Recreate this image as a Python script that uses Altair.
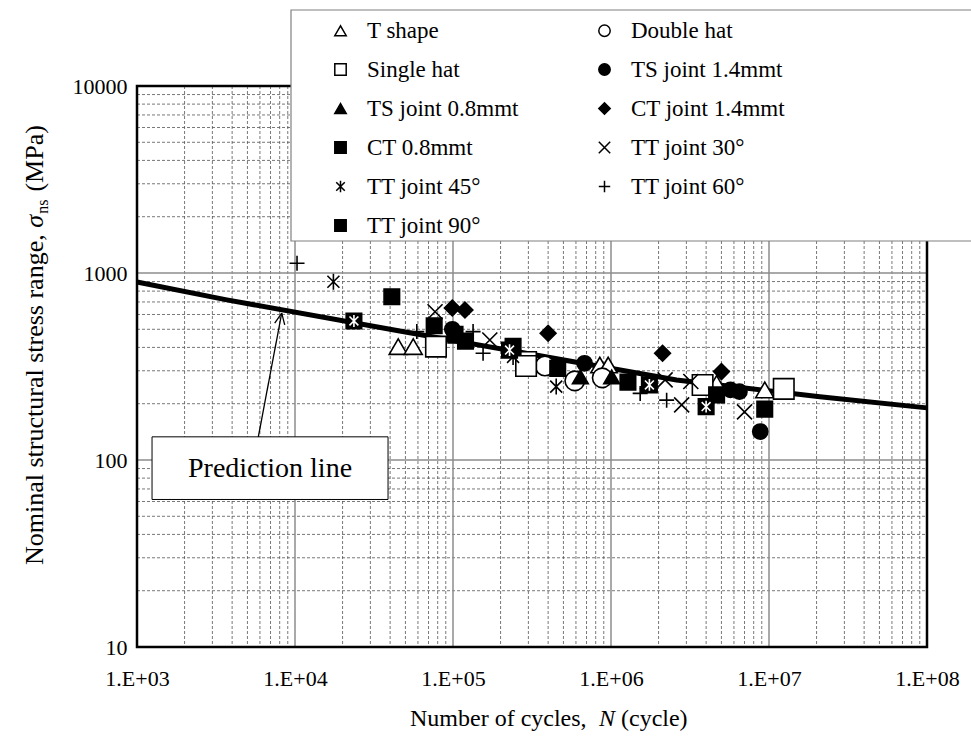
import altair as alt
import pandas as pd

# ---------------- data ----------------
series_names = ["T shape", "Double hat", "Single hat", "TS joint 1.4mmt", "TS joint 0.8mmt",
                "CT joint 1.4mmt", "CT 0.8mmt", "TT joint 30°", "TT joint 45°",
                "TT joint 60°", "TT joint 90°"]
# legend is filled column by column: left column first, then right column
legend_order = ["T shape", "Single hat", "TS joint 0.8mmt", "CT 0.8mmt", "TT joint 45°",
                "TT joint 90°", "Double hat", "TS joint 1.4mmt", "CT joint 1.4mmt",
                "TT joint 30°", "TT joint 60°"]

t_shape_N = [4.5e4, 5.6e4, 8.5e5, 9.6e5, 4.66e6, 9.4e6]
t_shape_S = [404, 404, 322, 322, 257, 237]
double_hat_N = [3.82e5, 5.9e5, 8.8e5]
double_hat_S = [318, 265, 275]
single_hat_N = [7.8e4, 2.9e5, 2.9e5, 3.8e6, 1.24e7]
single_hat_S = [404, 334, 318, 252, 240]
ts14_N = [9.9e4, 6.8e5, 5.7e6, 6.5e6, 8.8e6]
ts14_S = [500, 329, 237, 232, 142]
ts08_N = [1.05e5, 6.4e5, 1.01e6]
ts08_S = [460, 278, 278]
ct14_N = [9.9e4, 1.19e5, 4.0e5, 2.12e6, 5.0e6]
ct14_S = [650, 634, 476, 372, 297]
ct08_N = [4.1e4, 7.6e4, 1.03e5, 1.2e5, 2.4e5, 4.6e5, 1.28e6, 4.66e6, 9.4e6]
ct08_S = [747, 522, 470, 432, 405, 309, 261, 223, 187]
tt30_N = [7.7e4, 1.71e5, 1.7e6, 2.2e6, 3.2e6, 2.8e6, 7.0e6]
tt30_S = [621, 438, 262, 268, 263, 197, 181]
tt45_N = [1.75e4, 2.4e5, 4.5e5]
tt45_S = [898, 356, 247]
tt60_N = [1.03e4, 5.9e4, 1.34e5, 1.55e5, 1.53e6, 2.25e6]
tt60_S = [1127, 486, 486, 372, 227, 209]
tt90_N = [2.36e4, 2.28e5, 1.75e6, 4.0e6]
tt90_S = [554, 387, 252, 193]

pred_N = [1e3, 3.7e3, 4.6e4, 2.6e6, 2.1e7, 1e8]
pred_S = [895, 718, 490, 268, 218, 190]

x_decades = [1e3, 1e4, 1e5, 1e6, 1e7, 1e8]
y_decades = [10, 100, 1000, 10000]
x_minor = [m * 10 ** e for e in range(3, 8) for m in range(2, 10)]
y_minor = [m * 10 ** e for e in range(1, 4) for m in range(2, 10)]

# ---------------- styling ----------------
PLUS = "M-1,0L1,0M0,-1L0,1"
CROSS = "M-1,-1L1,1M-1,1L1,-1"
STAR = "M-0.75,-0.75L0.75,0.75M-0.75,0.75L0.75,-0.75M0,-1L0,1"
style = {  # shape, fill, size
    "T shape": ("triangle-up", "white", 324),
    "Double hat": ("circle", "white", 380),
    "Single hat": ("square", "white", 420),
    "TS joint 1.4mmt": ("circle", "black", 230),
    "TS joint 0.8mmt": ("triangle-up", "black", 250),
    "CT joint 1.4mmt": ("diamond", "black", 250),
    "CT 0.8mmt": ("square", "black", 240),
    "TT joint 30°": (CROSS, "black", 225),
    "TT joint 45°": (STAR, "black", 256),
    "TT joint 60°": (PLUS, "black", 225),
    "TT joint 90°": ("square", "black", 240),
}
shape_range = [style[s][0] for s in legend_order]
fill_range = [style[s][1] for s in legend_order]
stroke_range = ["black"] * len(legend_order)

all_N = [t_shape_N, double_hat_N, single_hat_N, ts14_N, ts08_N, ct14_N, ct08_N,
         tt30_N, tt45_N, tt60_N, tt90_N]
all_S = [t_shape_S, double_hat_S, single_hat_S, ts14_S, ts08_S, ct14_S, ct08_S,
         tt30_S, tt45_S, tt60_S, tt90_S]
rows = []
for k, (ns, ss) in enumerate(zip(all_N, all_S)):
    for n, s in zip(ns, ss):
        rows.append({"N": n, "S": s, "series": series_names[k], "sz": style[series_names[k]][2]})
pts = pd.DataFrame(rows)
tt90_df = pd.DataFrame({"N": tt90_N, "S": tt90_S})
pred_df = pd.DataFrame({"N": pred_N, "S": pred_S})

FONT = "Liberation Serif"
W, H = 790, 561
DEC_X, DEC_Y = W / 5, H / 3


def N_at(px):  # horizontal pixel offset in the plot -> cycles
    return 10 ** (3 + px / DEC_X)


def S_at(py):  # vertical pixel offset in the plot -> stress
    return 10 ** (4 - py / DEC_Y)


xscale = alt.Scale(type="log", domain=[1e3, 1e8], nice=False)
yscale = alt.Scale(type="log", domain=[10, 1e4], nice=False)

x_axis = alt.Axis(values=x_decades, title=None, ticks=False, domain=False, grid=False,
                  labelFont=FONT, labelFontSize=22, labelColor="black", labelPadding=21,
                  labelFlush=False, labelBound=False, labelOverlap=False,
                  labelExpr="'1.E+0' + round(log(datum.value) / LN10)")
y_axis = alt.Axis(values=y_decades, title=None, ticks=False, domain=False, grid=False,
                  labelFont=FONT, labelFontSize=22, labelColor="black", labelPadding=10,
                  labelFlush=False, labelBound=False, labelOverlap=False,
                  labelExpr="'' + datum.value")


def X(field="N"):
    return alt.X(field + ":Q", scale=xscale, axis=x_axis)


def Y(field="S"):
    return alt.Y(field + ":Q", scale=yscale, axis=y_axis)


# grid
vmin = alt.Chart(pd.DataFrame({"N": x_minor, "S": [1e4] * len(x_minor), "S2": [10] * len(x_minor)})
                 ).mark_rule(color="#555555", strokeWidth=0.8, strokeDash=[3, 2]).encode(
    x=X(), y=Y(), y2="S2:Q")
hmin = alt.Chart(pd.DataFrame({"S": y_minor, "N": [1e3] * len(y_minor), "N2": [1e8] * len(y_minor)})
                 ).mark_rule(color="#555555", strokeWidth=0.8, strokeDash=[3, 2]).encode(
    x=X(), x2="N2:Q", y=Y())
vmaj = alt.Chart(pd.DataFrame({"N": x_decades, "S": [1e4] * 6, "S2": [10] * 6})
                 ).mark_rule(color="#8c8c8c", strokeWidth=1.5).encode(
    x=X(), y=Y(), y2="S2:Q")
hmaj = alt.Chart(pd.DataFrame({"S": y_decades, "N": [1e3] * 4, "N2": [1e8] * 4})
                 ).mark_rule(color="#8c8c8c", strokeWidth=1.5).encode(
    x=X(), x2="N2:Q", y=Y())

frame = alt.Chart(pd.DataFrame({"N": [1e3], "N2": [1e8], "S": [1e4], "S2": [10]})).mark_rect(
    fill="transparent", stroke="black", strokeWidth=2.5).encode(
    x=X(), x2="N2:Q", y=Y(), y2="S2:Q")

pred = alt.Chart(pred_df).mark_line(color="black", strokeWidth=5).encode(x=X(), y=Y())

legend = alt.Legend(
    title=None, orient="none", legendX=192, legendY=-67, columns=2,
    columnPadding=74, rowPadding=15, labelFont=FONT, labelFontSize=23,
    labelColor="black", labelOffset=15, symbolSize=130, symbolStrokeColor="black",
    symbolStrokeWidth=1.5,
)

points = alt.Chart(pts).mark_point(filled=True, opacity=1, strokeWidth=1.6).encode(
    x=X(), y=Y(),
    shape=alt.Shape("series:N", scale=alt.Scale(domain=legend_order, range=shape_range),
                    legend=legend),
    fill=alt.Fill("series:N", scale=alt.Scale(domain=legend_order, range=fill_range),
                  legend=legend),
    stroke=alt.Stroke("series:N", scale=alt.Scale(domain=legend_order, range=stroke_range),
                      legend=legend),
    size=alt.Size("sz:Q", scale=None),
)

tt90_star = alt.Chart(tt90_df).mark_point(shape=STAR, filled=False, stroke="white",
                                          strokeWidth=1.6, size=140, opacity=1).encode(
    x=X(), y=Y())

# annotation: box, label and arrow
box_df = pd.DataFrame({"N": [1.245e3], "N2": [3.88e4], "S": [133], "S2": [61.5]})
box = alt.Chart(box_df).mark_rect(fill="white", stroke="black", strokeWidth=1).encode(
    x=X(), x2="N2:Q", y=Y(), y2="S2:Q")
box_text = alt.Chart(pd.DataFrame({"N": [6.95e3], "S": [90], "t": ["Prediction line"]})).mark_text(
    font=FONT, fontSize=28, color="black", align="center", baseline="middle").encode(
    x=X(), y=Y(), text="t:N")
arrow_df = pd.DataFrame({"N": [5.86e3, 8.24e3, 8.24e3], "S": [133, 610, 610],
                         "N2": [8.24e3, 7.44e3, 8.61e3], "S2": [610, 540, 528]})
arrow = alt.Chart(arrow_df).mark_rule(color="black", strokeWidth=1.3).encode(
    x=X(), x2="N2:Q", y=Y(), y2="S2:Q")

# legend background box
legend_box = alt.Chart(pd.DataFrame({"N": [N_at(154)], "N2": [N_at(845)],
                                     "S": [S_at(-76)], "S2": [S_at(155)]})).mark_rect(
    fill="white", stroke="#808080", strokeWidth=1.2).encode(
    x=X(), x2="N2:Q", y=Y(), y2="S2:Q")


# axis titles (mixed styles)
def txt(s, px, py, size=24, fstyle="normal", angle=0):
    df = pd.DataFrame({"N": [N_at(px)], "S": [S_at(py)], "t": [s]})
    return alt.Chart(df).mark_text(font=FONT, fontSize=size, fontStyle=fstyle, color="black",
                                   align="left", baseline="alphabetic", angle=angle).encode(
        x=X(), y=Y(), text="t:N")


xt1 = txt("Number of cycles,", 273, 640)
xt2 = txt("N", 462, 640, fstyle="italic")
xt3 = txt("(cycle)", 484, 640)

yt1 = txt("Nominal structural stress range,", -94, 479, size=26, angle=270)
yt2 = txt("σ", -94, 141.8, size=26, fstyle="italic", angle=270)
yt3 = txt("ns", -89, 127.8, size=16, angle=270)
yt4 = txt("(MPa)", -94, 105.6, size=26, angle=270)

chart = alt.layer(
    vmin, hmin, vmaj, hmaj, frame, pred, points, tt90_star, box, box_text, arrow,
    legend_box, xt1, xt2, xt3, yt1, yt2, yt3, yt4,
).properties(
    width=W, height=H,
    autosize=alt.AutoSizeParams(type="none"),
    padding={"left": 137, "top": 86, "right": 44, "bottom": 93},
    background="white",
)

chart.save("out.html", embed_options={"renderer": "svg", "actions": False})
